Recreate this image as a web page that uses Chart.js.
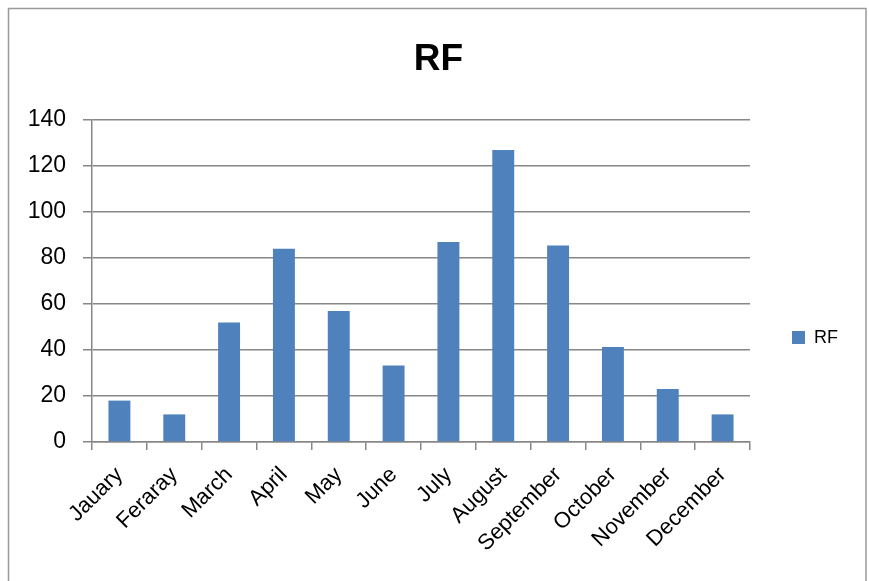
<!DOCTYPE html>
<html>
<head>
<meta charset="utf-8">
<script src="https://cdn.jsdelivr.net/npm/chart.js@4.4.1/dist/chart.umd.min.js"></script>
<style>
  html, body { margin: 0; padding: 0; background: #ffffff; }
  #wrap { position: relative; width: 869px; height: 581px; }
</style>
</head>
<body>
<div id="wrap"><canvas id="rf"></canvas></div>
<script>
// Monthly rainfall (RF)
const months = ["Jauary", "Feraray", "March", "April", "May", "June", "July", "August", "September", "October", "November", "December"];
const rfValues = [18, 12, 52, 84, 57, 33.3, 87, 127, 85.4, 41.3, 23, 12];
const seriesName = "RF";
const yTicks = { min: 0, max: 140, step: 20 };

const barColor = "#4F81BD";
const gridColor = "#878787";
const baseFont = "'Liberation Sans', Arial, sans-serif";

// Outer frame around the chart
const framePlugin = {
  id: "frame",
  beforeDraw(chart) {
    const ctx = chart.ctx;
    ctx.save();
    ctx.fillStyle = "#ffffff";
    ctx.fillRect(0, 0, chart.width, chart.height);
    ctx.strokeStyle = "#9a9a9a";
    ctx.lineWidth = 1.5;
    ctx.strokeRect(8.5, 8.5, 857.5, chart.height + 20);
    ctx.restore();
  }
};

// Legend entry at the right of the plot
const sideLegend = {
  id: "sideLegend",
  afterDraw(chart) {
    const ctx = chart.ctx;
    const ds = chart.data.datasets[0];
    const area = chart.chartArea;
    const x = area.right + 42;
    const y = 337.5;
    ctx.save();
    ctx.fillStyle = ds.backgroundColor;
    ctx.fillRect(x, y - 6.5, 13, 13);
    ctx.fillStyle = "#000000";
    ctx.font = "18px " + baseFont;
    ctx.textAlign = "left";
    ctx.textBaseline = "middle";
    ctx.fillText(ds.label, x + 22, y + 1);
    ctx.restore();
  }
};

new Chart(document.getElementById("rf"), {
  type: "bar",
  data: {
    labels: months,
    datasets: [{
      label: seriesName,
      data: rfValues,
      backgroundColor: barColor,
      borderWidth: 0,
      barPercentage: 0.4,
      categoryPercentage: 1.0
    }]
  },
  options: {
    responsive: true,
    maintainAspectRatio: false,
    animation: false,
    layout: { padding: { left: 8, right: 0, top: 0, bottom: 0 } },
    plugins: {
      legend: { display: false },
      tooltip: { enabled: false },
      title: {
        display: true,
        text: seriesName,
        color: "#000000",
        font: { family: baseFont, size: 37, weight: "bold" },
        padding: { top: 37.5, bottom: 38.1 }
      }
    },
    scales: {
      x: {
        grid: {
          display: true,
          drawOnChartArea: false,
          drawTicks: true,
          tickLength: 8,
          color: gridColor,
          lineWidth: 1.5,
          offset: true
        },
        border: { display: true, color: gridColor, width: 1.5 },
        ticks: {
          color: "#000000",
          font: { family: baseFont, size: 22 },
          minRotation: 45,
          maxRotation: 45,
          padding: 12,
          autoSkip: false
        },
        afterFit(scale) { scale.height = 139; }
      },
      y: {
        min: yTicks.min,
        max: yTicks.max,
        grid: {
          color: gridColor,
          lineWidth: 1.5,
          drawTicks: true,
          tickLength: 9
        },
        border: { display: true, color: gridColor, width: 1.5 },
        ticks: {
          stepSize: yTicks.step,
          color: "#000000",
          font: { family: baseFont, size: 23 },
          padding: 17
        },
        afterFit(scale) { scale.width = 84; }
      },
      // empty right-hand band that keeps room for the legend entry
      legendBand: {
        type: "linear",
        position: "right",
        display: true,
        grid: { display: false },
        border: { display: false },
        ticks: { display: false },
        afterFit(scale) { scale.width = 119; }
      }
    }
  },
  plugins: [framePlugin, sideLegend]
});
</script>
</body>
</html>
